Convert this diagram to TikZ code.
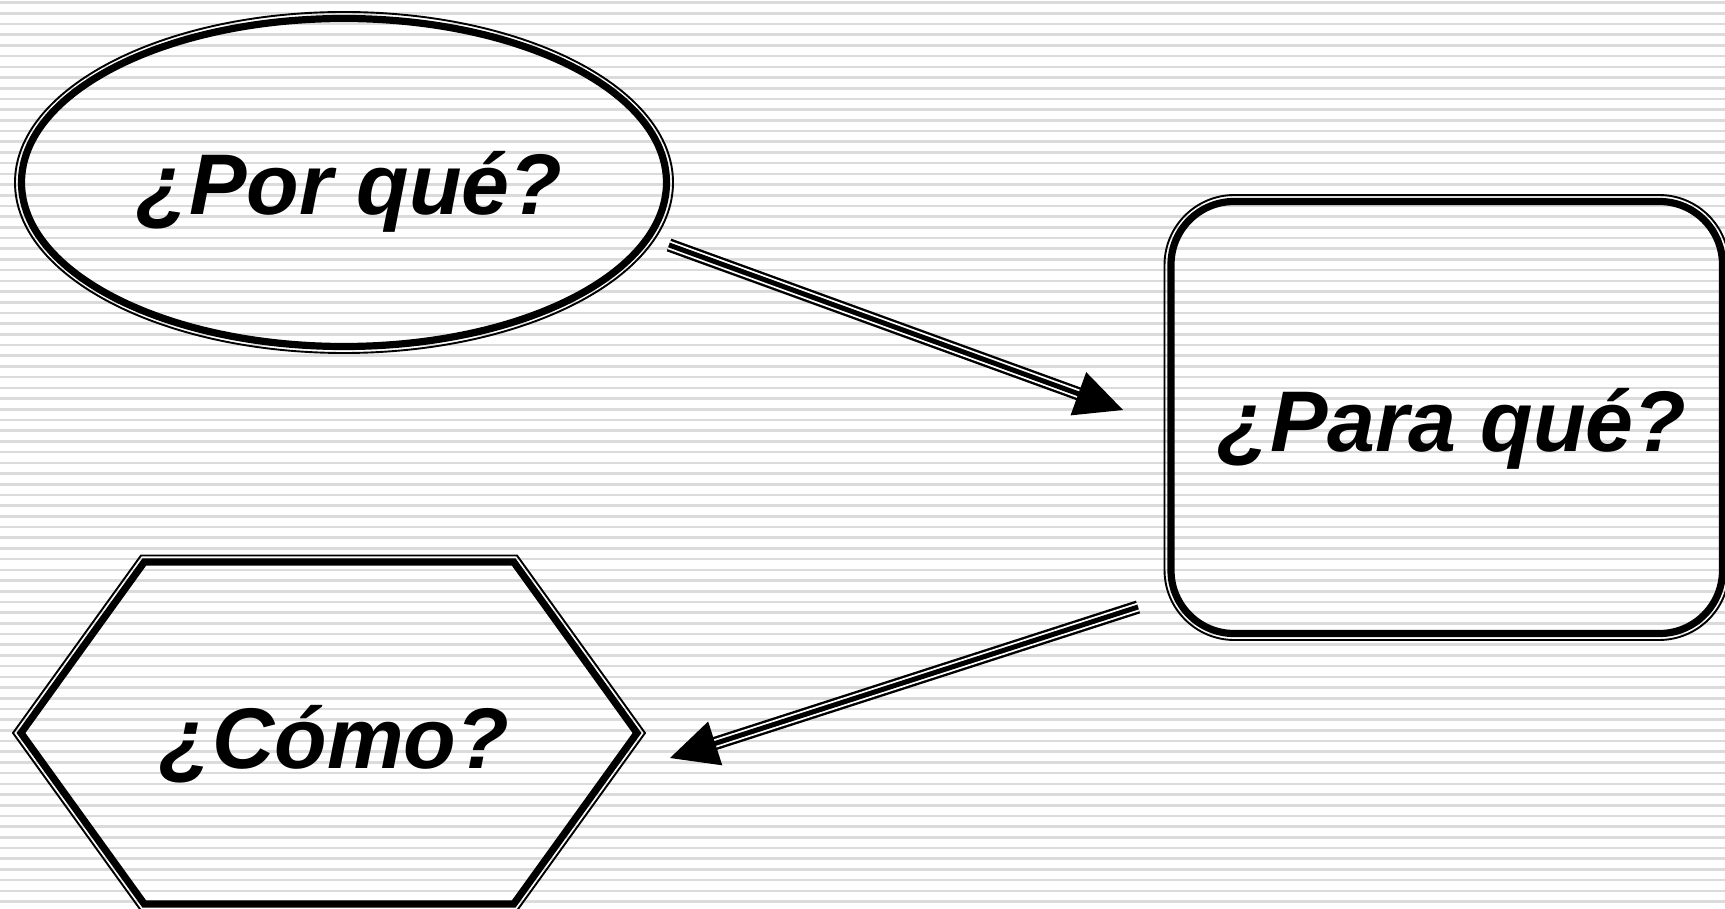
\documentclass[tikz,border=0pt]{standalone}
\usepackage{fontspec}
\setmainfont{Liberation Sans}
\usetikzlibrary{calc,shapes.geometric}
\begin{document}
\begin{tikzpicture}[x=0.1mm,y=-0.1mm,
  thinline/.style={line width=0.19mm},
  thickline/.style={line width=0.72mm},
  qlabel/.style={font=\fontsize{24.5pt}{29pt}\selectfont\bfseries\itshape, anchor=base, inner sep=0pt},
  stripe/.style={black!14, line width=0.26mm},
  arrowbody/.style={line width=0.24mm, double=white, double distance=0.86mm},
  arrowcore/.style={line width=0.5mm},
  arrowhead/.style={fill=black}]
\useasboundingbox (0,0) rectangle (1725,909);
\clip (0,0) rectangle (1725,909);
\fill[white] (0,0) rectangle (1725,909);
\foreach \k in {0,...,84} \draw[stripe] (0,{2.7+\k*10.7}) -- (1725,{2.7+\k*10.7});

% Ellipse: por que
\node[ellipse, draw, thickline, minimum width=64.5mm, minimum height=32.8mm, inner sep=0pt] (por) at (344,182.5) {};
\draw[thinline] (por.center) ellipse [x radius=329, y radius=170.5];
\node[qlabel] (portxt) at ($(por.center)+(5.5,32.5)$) {¿Por qué?};

% Rounded box: para que
\node[draw, thickline, rounded corners=6.3mm, minimum width=55.15mm, minimum height=43.2mm, inner sep=0pt] (para) at (1446.75,417.5) {};
\draw[thinline, rounded corners=7mm] ($(para.center)+(-282.25,-222.5)$) rectangle ++(564.5,445);
\node[qlabel] (paratxt) at ($(para.center)+(5.25,33.5)$) {¿Para qué?};

% Hexagon: como
\coordinate (como) at (329,733);
\draw[thinline] ($(como)+(-316,0)$) -- ($(como)+(-188,-177.5)$) -- ($(como)+(188,-177.5)$) -- ($(como)+(316,0)$) -- ($(como)+(188,177.5)$) -- ($(como)+(-188,177.5)$) -- cycle;
\draw[thickline, line join=miter] ($(como)+(-308,0)$) -- ($(como)+(-184.7,-171)$) -- ($(como)+(184.7,-171)$) -- ($(como)+(308,0)$) -- ($(como)+(184.7,171)$) -- ($(como)+(-184.7,171)$) -- cycle;
\node[qlabel] (comotxt) at ($(como)+(5.5,35)$) {¿Cómo?};

% Arrow 1
\coordinate (a1s) at (669,245);
\coordinate (a1t) at (1123,410);
\coordinate (a1b) at ($(a1t)!4.75mm!(a1s)$);
\coordinate (a1e) at ($(a1t)!4.0mm!(a1s)$);
\draw[arrowbody] (a1s) -- (a1e);
\draw[arrowcore] (a1s) -- (a1e);
\fill[arrowhead] (a1t) -- ($(a1b)!2.3mm!90:(a1t)$) -- ($(a1b)!2.3mm!-90:(a1t)$) -- cycle;

% Arrow 2
\coordinate (a2s) at (1138,607);
\coordinate (a2t) at (670,758);
\coordinate (a2b) at ($(a2t)!4.75mm!(a2s)$);
\coordinate (a2e) at ($(a2t)!4.0mm!(a2s)$);
\draw[arrowbody] (a2s) -- (a2e);
\draw[arrowcore] (a2s) -- (a2e);
\fill[arrowhead] (a2t) -- ($(a2b)!2.3mm!90:(a2t)$) -- ($(a2b)!2.3mm!-90:(a2t)$) -- cycle;
\end{tikzpicture}
\end{document}
